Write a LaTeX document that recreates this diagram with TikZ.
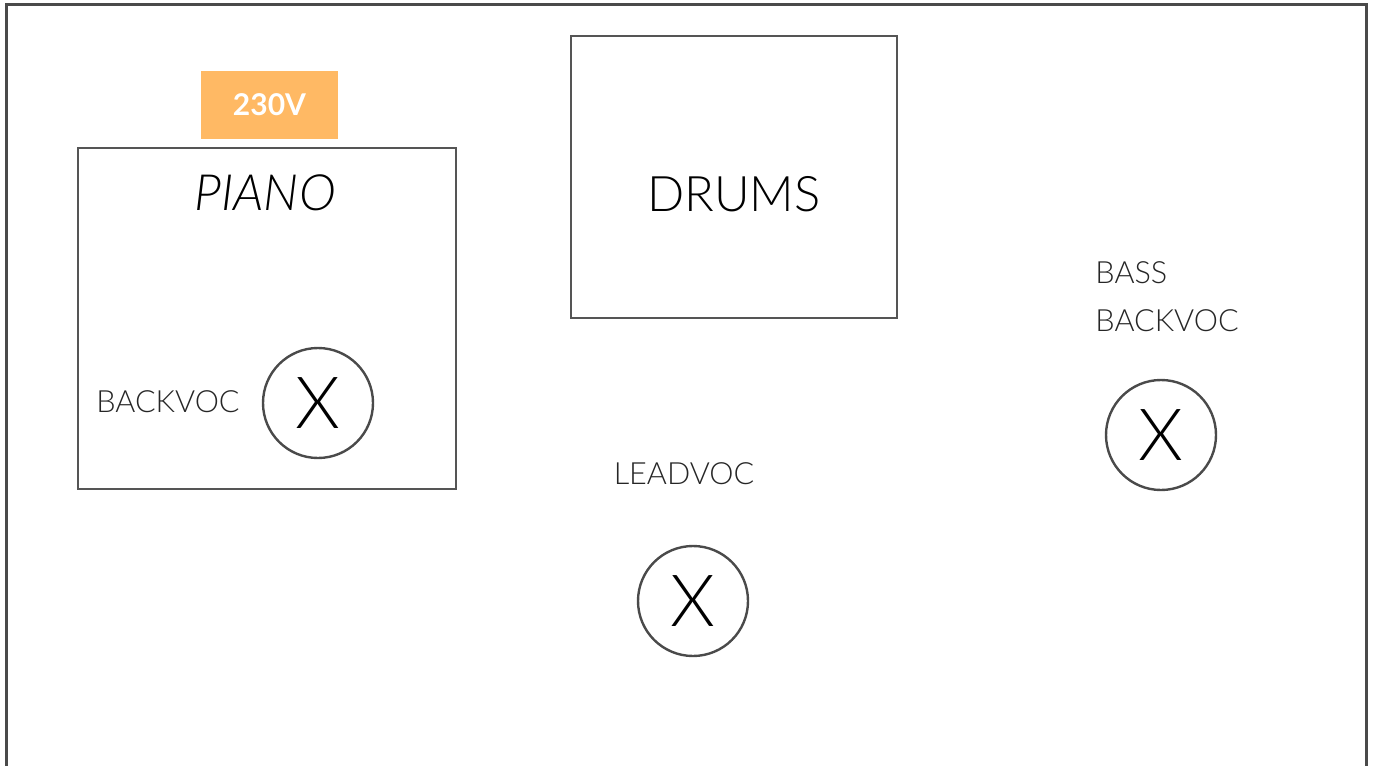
\documentclass[tikz,border=0pt]{standalone}
\usepackage{fontspec}
\setmainfont{Lato}[UprightFont=* Light,ItalicFont=* Light Italic,BoldFont=* Bold]
\usepackage{tikz}
\usetikzlibrary{positioning}

\definecolor{framegray}{HTML}{4A4A4A}
\definecolor{linegray}{HTML}{555555}
\definecolor{plugorange}{HTML}{FFB964}

\tikzset{
  stagebox/.style={draw=linegray,line width=0.75pt,inner sep=0pt},
  mic/.style={circle,draw=framegray,line width=1.2pt,minimum size=55pt,inner sep=0pt,font=\fontsize{36}{36}\selectfont},
  micname/.style={text=black!85,inner sep=0pt,font=\fontsize{15.3}{24}\selectfont,align=left},
  bigname/.style={inner sep=0pt,font=\fontsize{24.5}{30}\selectfont},
  powerbox/.style={fill=plugorange,text=white,inner sep=0pt,minimum width=68.5pt,minimum height=33.5pt,font=\bfseries\fontsize{15}{15}\selectfont}
}

\begin{document}
\begin{tikzpicture}[x=0.5pt,y=-0.5pt]
\useasboundingbox (0,0) rectangle (1374,765);
\clip (0,0) rectangle (1374,765);
% stage outline, open at the front
\draw[framegray,line width=1.5pt] (6,800) -- (6,5) -- (1366,5) -- (1366,800);

% piano
\node[stagebox,minimum width=189pt,minimum height=170.5pt] (piano) at (267,318.5) {};
\node[bigname,font=\itshape\fontsize{25}{30}\selectfont] (pianoname) at (265,193) {PIANO};
\node[powerbox] (power) at (269.5,105) {230V};
\node[mic] (pianomic) at (318,403) {X};
\node[micname] (pianovoc) at (168,402) {BACKVOC};

% drums
\node[stagebox,minimum width=163pt,minimum height=141pt] (drums) at (734,177) {};
\node[bigname] (drumsname) at (734,194) {DRUMS};

% lead vocal
\node[micname] (leadvoc) at (684,474) {LEADVOC};
\node[mic] (leadmic) at (693,601) {X};

% bass
\node[micname,anchor=north west] (bassvoc) at (1095,261) {BASS\\BACKVOC};
\node[mic] (bassmic) at (1161,435) {X};
\end{tikzpicture}
\end{document}
